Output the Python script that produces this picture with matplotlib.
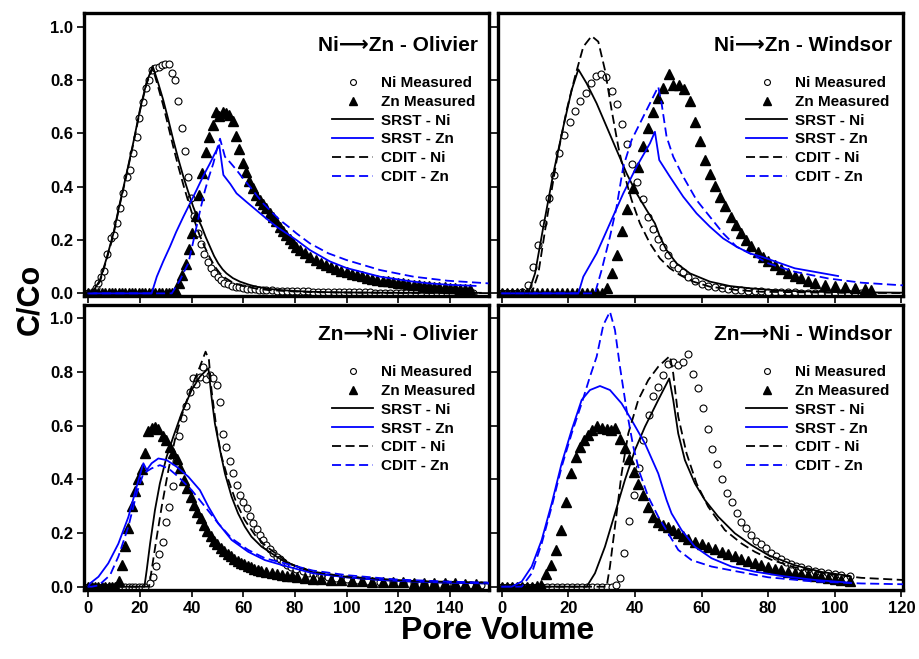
import matplotlib
matplotlib.use("Agg")
import matplotlib.pyplot as plt
from matplotlib.ticker import FormatStrFormatter

# ---------------- Ni -> Zn  Olivier (top left) ----------------
tl_ni_x = [0, 1, 2, 3, 3.9, 5, 6.1, 7.4, 8.9, 9.9, 11.0, 12.3, 13.5, 14.8, 16.1, 17.2, 18.7, 19.7, 21.0, 22.3,
           23.6, 24.6, 25.9, 27.2, 28.5, 29.8, 31.1, 32.4, 33.5, 34.8, 36.1, 37.4, 38.7, 39.7, 41.0, 42.3, 43.6,
           44.9, 46.2, 47.5, 48.8, 50.1, 51.4, 52.6, 54, 55.5, 57, 58.5, 60, 61.5, 63, 64.5, 66, 67.5, 69, 71,
           73, 75, 77, 79, 81, 83, 85, 87, 89, 91, 93, 95, 97, 99, 101, 103, 105, 107, 109, 111, 113, 115, 117,
           119, 121, 123, 125, 127, 129, 131, 133, 135, 137, 139, 141, 143, 145, 147, 149]
tl_ni_y = [0, 0, 0.005, 0.02, 0.04, 0.06, 0.085, 0.146, 0.206, 0.219, 0.263, 0.319, 0.375, 0.438, 0.463, 0.525,
           0.588, 0.656, 0.719, 0.769, 0.80, 0.838, 0.844, 0.85, 0.855, 0.859, 0.86, 0.825, 0.80, 0.72, 0.62,
           0.534, 0.435, 0.356, 0.29, 0.228, 0.184, 0.148, 0.119, 0.094, 0.075, 0.06, 0.05, 0.04, 0.034, 0.029,
           0.025, 0.022, 0.02, 0.018, 0.016, 0.015, 0.014, 0.013, 0.012, 0.011, 0.01, 0.009, 0.009, 0.008,
           0.008, 0.007, 0.007, 0.006, 0.006, 0.006, 0.005, 0.005, 0.005, 0.005, 0.004, 0.004, 0.004, 0.004,
           0.004, 0.003, 0.003, 0.003, 0.003, 0.003, 0.003, 0.003, 0.002, 0.002, 0.002, 0.002, 0.002, 0.002,
           0.002, 0.002, 0.002, 0.002, 0.002, 0.002, 0.002]
tl_zn_x = [0, 1.3, 2.6, 3.9, 5.2, 6.5, 7.8, 9.1, 10.4, 11.7, 13, 14.3, 15.6, 16.9, 18.2, 19.5, 20.8, 22.1, 23.4,
           24.7, 26, 27.3, 28.6, 29.9, 31.2, 32.5, 33.8, 35.1, 36.4, 37.7, 39.0, 40.3, 41.6, 42.9, 44.2, 45.5,
           46.8, 48.1, 49.4, 50.7, 52.0, 53.3, 54.6, 55.9, 57.2, 58.5, 59.8, 61.1, 62.4, 63.7, 65, 66.3, 67.6,
           68.9, 70.2, 71.5, 72.8, 74.1, 75.4, 76.7, 78, 79.3, 80.6, 82, 84, 86, 88, 90, 92, 94, 96, 98, 100,
           102, 104, 106, 108, 110, 112, 114, 116, 118, 120, 122, 124, 126, 128, 130, 132, 134, 136, 138, 140,
           142, 144, 146, 148]
tl_zn_y = [0, 0, 0, 0, 0, 0, 0, 0, 0, 0, 0, 0, 0, 0, 0, 0, 0, 0, 0, 0, 0, 0, 0, 0, 0, 0.002, 0.01, 0.04, 0.07,
           0.11, 0.165, 0.225, 0.29, 0.37, 0.45, 0.53, 0.585, 0.63, 0.68, 0.665, 0.68, 0.675, 0.67, 0.645, 0.59,
           0.54, 0.49, 0.455, 0.42, 0.395, 0.37, 0.35, 0.335, 0.32, 0.30, 0.285, 0.27, 0.25, 0.235, 0.22, 0.205,
           0.19, 0.175, 0.163, 0.15, 0.138, 0.125, 0.115, 0.107, 0.1, 0.092, 0.085, 0.079, 0.073, 0.068, 0.064,
           0.059, 0.055, 0.051, 0.048, 0.045, 0.042, 0.039, 0.037, 0.035, 0.032, 0.03, 0.028, 0.027, 0.025,
           0.024, 0.022, 0.021, 0.02, 0.018, 0.017, 0.015]
tl_srst_ni_x = [0, 2, 4.5, 7, 9.7, 12, 14.8, 17.5, 20, 22.5, 24.9, 27, 29, 31, 32.9, 34.8, 36.8, 38.7, 40.6, 42.2,
                43.9, 45.5, 47.1, 48.7, 50.3, 52, 53.5, 56, 58.7, 62, 65, 70, 74, 80, 86, 95, 105, 120, 135, 152]
tl_srst_ni_y = [0, 0.01, 0.05, 0.13, 0.225, 0.33, 0.45, 0.57, 0.69, 0.79, 0.8525, 0.79, 0.725, 0.65, 0.575, 0.505,
                0.4375, 0.38, 0.325, 0.285, 0.25, 0.21, 0.175, 0.14, 0.1125, 0.09, 0.075, 0.057, 0.044, 0.033,
                0.025, 0.017, 0.0125, 0.009, 0.006, 0.004, 0.003, 0.002, 0.002, 0.002]
tl_srst_zn_x = [0, 24.5, 26.5, 29, 31.6, 34, 36.8, 39.5, 41.9, 44.5, 47.1, 49, 50.7, 52.3, 55, 57.4, 61, 65, 69,
                72.9, 76.8, 80.6, 85.8, 93.5, 100, 113, 125, 132, 140, 150]
tl_srst_zn_y = [0, 0, 0.0625, 0.12, 0.175, 0.23, 0.2875, 0.34, 0.3875, 0.44, 0.4875, 0.525, 0.556, 0.444, 0.41,
                0.375, 0.345, 0.3125, 0.28, 0.25, 0.225, 0.2, 0.1625, 0.12, 0.095, 0.0625, 0.045, 0.0375, 0.032,
                0.028]
tl_cdit_ni_x = [0, 2, 4.5, 7, 9.7, 12, 14.8, 17.5, 20, 22.5, 24.9, 27, 29, 31, 33, 35, 37, 39, 41, 43, 45, 47, 49,
                51, 53, 56, 60, 65, 70, 80, 90, 100, 120, 155]
tl_cdit_ni_y = [0, 0.008, 0.045, 0.125, 0.22, 0.325, 0.445, 0.565, 0.685, 0.785, 0.845, 0.775, 0.705, 0.625,
                0.545, 0.47, 0.4, 0.335, 0.275, 0.22, 0.175, 0.135, 0.1, 0.075, 0.058, 0.04, 0.027, 0.018, 0.012,
                0.007, 0.004, 0.003, 0.002, 0.001]
tl_cdit_zn_x = [0, 32.3, 35.5, 37, 38.7, 40.3, 41.9, 43.5, 45.2, 46.8, 48.4, 49.8, 51, 52.9, 55, 57.4, 60, 62.6,
                65, 67.7, 71, 74.2, 77.5, 80.6, 85.8, 93, 100, 113, 126, 139, 155]
tl_cdit_zn_y = [0, 0, 0.05, 0.08, 0.1125, 0.18, 0.25, 0.32, 0.3875, 0.44, 0.4875, 0.54, 0.58, 0.5125, 0.49,
                0.4625, 0.43, 0.4, 0.37, 0.3375, 0.305, 0.275, 0.25, 0.225, 0.1875, 0.15, 0.125, 0.0875, 0.0625,
                0.0475, 0.0375]

# ---------------- Ni -> Zn  Windsor (top right) ----------------
tr_ni_x = [0, 1.5, 3, 4.5, 6, 7.8, 9.5, 11, 12.5, 14.3, 15.8, 17.3, 18.8, 20.5, 22, 23.5, 25.3, 26.8, 28.3, 29.7,
           31.3, 33, 34.5, 36, 37.5, 39.1, 40.7, 42.3, 43.8, 45.3, 46.8, 48.3, 49.8, 51.5, 53, 54.5, 56, 58, 60,
           62, 64, 66, 68, 70, 72, 74, 76, 78, 80, 82, 84, 86, 88, 90, 92, 94, 96, 98, 100, 102, 104, 106, 108,
           110]
tr_ni_y = [0, 0, 0, 0, 0.005, 0.03, 0.0975, 0.18, 0.2625, 0.356, 0.444, 0.525, 0.594, 0.644, 0.685, 0.72, 0.75,
           0.79, 0.815, 0.8225, 0.81, 0.76, 0.71, 0.635, 0.56, 0.485, 0.416, 0.354, 0.2875, 0.24, 0.204, 0.175,
           0.144, 0.109, 0.094, 0.079, 0.063, 0.045, 0.035, 0.028, 0.023, 0.019, 0.016, 0.013, 0.011, 0.01,
           0.008, 0.007, 0.006, 0.005, 0.005, 0.004, 0.004, 0.003, 0.003, 0.003, 0.003, 0.002, 0.002, 0.002,
           0.002, 0.002, 0.002, 0.002]
tr_zn_x = [0, 1.5, 3, 4.5, 6, 7.5, 9, 10.5, 12, 13.5, 15, 16.5, 18, 19.5, 21, 22.5, 24, 25.5, 27, 28.5, 30, 31.5,
           33, 34.5, 36, 37.5, 39.3, 40.8, 42.3, 43.8, 45.3, 46.8, 48.5, 50.1, 51.5, 53.3, 54.7, 56.5, 58, 59.5,
           61, 62.5, 64, 65.5, 67, 68.7, 70.2, 71.8, 73.5, 75, 77, 78.5, 80, 82, 84, 86, 88, 90, 92, 94, 97,
           100, 103, 106, 109, 111]
tr_zn_y = [0, 0, 0, 0, 0, 0, 0, 0, 0, 0, 0, 0, 0, 0, 0, 0, 0, 0, 0, 0, 0, 0.019, 0.075, 0.144, 0.234, 0.315,
           0.394, 0.4725, 0.5525, 0.62, 0.68, 0.734, 0.769, 0.8225, 0.78, 0.78, 0.765, 0.72, 0.644, 0.5725, 0.5,
           0.4475, 0.404, 0.3625, 0.3275, 0.2875, 0.256, 0.225, 0.2, 0.1775, 0.156, 0.1375, 0.1225, 0.106,
           0.09, 0.0775, 0.065, 0.056, 0.046, 0.0375, 0.031, 0.0275, 0.0225, 0.019, 0.015, 0.0125]
tr_srst_ni_x = [0, 8, 10, 12.5, 15.5, 18.5, 21, 23, 25.5, 28.5, 31.5, 34.5, 37.5, 40.5, 43.5, 46, 47.5, 49.5,
                52.5, 56.5, 62.5, 68.5, 74.5, 84, 98, 120.5]
tr_srst_ni_y = [0, 0, 0.075, 0.25, 0.45, 0.625, 0.7625, 0.84, 0.7875, 0.7125, 0.625, 0.5375, 0.45, 0.375,
                0.3125, 0.2625, 0.2125, 0.1625, 0.1125, 0.075, 0.044, 0.0275, 0.019, 0.01, 0.005, 0.0025]
tr_srst_zn_x = [0, 23, 24.5, 28.5, 32.5, 36.5, 40.5, 44.5, 46, 47.3, 50.5, 54.5, 58.5, 62.5, 66.5, 70.5, 74.5,
                78, 88, 101]
tr_srst_zn_y = [0, 0, 0.0625, 0.15, 0.2625, 0.375, 0.475, 0.5625, 0.606, 0.5, 0.4375, 0.3625, 0.3, 0.25, 0.206,
                0.175, 0.15, 0.1375, 0.094, 0.065]
tr_cdit_ni_x = [0, 9, 11, 13.5, 16.5, 19.5, 22, 24.5, 27, 29, 31, 33, 35, 37, 39, 41.5, 44.5, 47.5, 50.5, 53.5,
                57.5, 62.5, 70.5, 78, 98, 120.5]
tr_cdit_ni_y = [0, 0, 0.075, 0.275, 0.5, 0.6875, 0.8125, 0.925, 0.965, 0.944, 0.8375, 0.6875, 0.55, 0.4375, 0.35,
                0.2625, 0.1875, 0.131, 0.094, 0.069, 0.044, 0.025, 0.0125, 0.006, 0.0025, 0.001]
tr_cdit_zn_x = [0, 28, 30, 32.5, 34.5, 36.5, 39, 42, 45, 47, 48, 49.5, 51.5, 54.5, 58.5, 62.5, 66.5, 70.5, 74.5,
                80, 88, 98, 108, 120.5]
tr_cdit_zn_y = [0, 0, 0.0875, 0.2125, 0.325, 0.475, 0.575, 0.65, 0.725, 0.775, 0.7125, 0.5875, 0.5125, 0.4375,
                0.35, 0.2875, 0.225, 0.175, 0.15, 0.1125, 0.081, 0.056, 0.04, 0.03]

# ---------------- Zn -> Ni  Olivier (bottom left) ----------------
bl_ni_x = [0, 1.3, 2.6, 3.9, 5.2, 6.5, 7.8, 9.1, 10.4, 11.7, 13, 14.3, 15.6, 16.9, 18.2, 19.5, 20.8, 22.1, 23.9,
           24.9, 26.2, 27.5, 28.8, 30.1, 31.4, 32.6, 33.9, 35.1, 36.8, 37.8, 39.4, 40.4, 41.7, 43.2, 44.5, 45.5,
           47.1, 48.4, 50, 51, 52.3, 53.5, 54.8, 56.1, 57.4, 58.7, 60, 61.3, 62.6, 63.9, 65.2, 66.5, 67.7, 69,
           70.3, 71.6, 73, 74.2, 75.5, 76.8, 78.5, 80.6, 83, 85, 87, 90, 93, 96, 100, 104, 108, 113, 118, 122,
           126, 130, 134, 139, 144, 148, 152]
bl_ni_y = [0, 0, 0, 0, 0, 0, 0, 0, 0, 0, 0, 0, 0, 0, 0, 0, 0, 0, 0.0125, 0.037, 0.077, 0.122, 0.168, 0.242, 0.296,
           0.375, 0.47, 0.56, 0.627, 0.673, 0.727, 0.776, 0.755, 0.783, 0.82, 0.773, 0.789, 0.776, 0.75, 0.69,
           0.57, 0.52, 0.47, 0.425, 0.379, 0.342, 0.317, 0.292, 0.263, 0.238, 0.214, 0.193, 0.174, 0.155, 0.139,
           0.124, 0.112, 0.102, 0.092, 0.081, 0.073, 0.065, 0.057, 0.052, 0.047, 0.041, 0.036, 0.031, 0.027,
           0.024, 0.021, 0.019, 0.016, 0.014, 0.012, 0.011, 0.01, 0.01, 0.008, 0.007, 0.006]
bl_zn_x = [0, 1.3, 2.6, 3.9, 5.2, 6.5, 7.8, 9.1, 10.4, 11.7, 12.9, 14.2, 15.5, 16.8, 18.1, 19.4, 20.7, 22, 23.2,
           24.5, 25.8, 27.1, 28.8, 30.2, 31.6, 32.9, 34.2, 35.5, 37, 38.3, 39.6, 40.9, 42.2, 43.5, 44.8, 46.1,
           47.4, 48.7, 50, 51.3, 52.6, 53.9, 55.2, 56.5, 57.8, 59.1, 60.4, 61.7, 63, 64.3, 65.6, 67, 69, 71, 73,
           75, 77, 79, 81, 84, 87, 90, 94, 98, 102, 106, 110, 114, 118, 122, 126, 130, 134, 138, 142, 146, 150]
bl_zn_y = [0, 0, 0, 0, 0, 0, 0, 0, 0, 0.02, 0.08, 0.15, 0.22, 0.3, 0.355, 0.40, 0.44, 0.5, 0.58, 0.59, 0.594,
           0.586, 0.56, 0.545, 0.522, 0.497, 0.475, 0.441, 0.398, 0.366, 0.335, 0.304, 0.28, 0.255, 0.23, 0.208,
           0.189, 0.172, 0.158, 0.145, 0.133, 0.123, 0.113, 0.104, 0.096, 0.089, 0.083, 0.077, 0.072, 0.067,
           0.063, 0.06, 0.055, 0.051, 0.047, 0.044, 0.041, 0.038, 0.036, 0.033, 0.03, 0.028, 0.026, 0.024,
           0.022, 0.02, 0.019, 0.018, 0.017, 0.016, 0.015, 0.014, 0.013, 0.012, 0.012, 0.011, 0.01]
bl_srst_ni_x = [0, 21.7, 22.6, 23.9, 25.8, 27.7, 30.3, 32.9, 36.1, 40, 43.2, 46.5, 47.7, 49, 51, 52.9, 55.5, 58,
                60.6, 63.2, 67.1, 71, 76, 87, 100, 113, 126, 139, 155]
bl_srst_ni_y = [0, 0, 0.062, 0.16, 0.286, 0.385, 0.484, 0.559, 0.646, 0.733, 0.783, 0.814, 0.708, 0.609, 0.509,
                0.422, 0.335, 0.273, 0.224, 0.186, 0.149, 0.124, 0.093, 0.052, 0.035, 0.025, 0.019, 0.015, 0.012]
bl_srst_zn_x = [0, 0.6, 3.9, 7.7, 11.6, 15.5, 18.7, 21.3, 22.6, 24.5, 27.1, 30.3, 34.2, 38.7, 43.2, 46.5, 50.3,
                55.5, 61.9, 68.4, 76, 87, 100, 113, 126, 139, 155]
bl_srst_zn_y = [0, 0.012, 0.037, 0.087, 0.16, 0.26, 0.373, 0.46, 0.435, 0.46, 0.478, 0.472, 0.447, 0.41, 0.36,
                0.298, 0.236, 0.174, 0.13, 0.099, 0.078, 0.05, 0.035, 0.025, 0.019, 0.015, 0.012]
bl_cdit_ni_x = [0, 23.5, 24.5, 26.5, 28.4, 31, 33.5, 36.8, 40, 43.2, 45.4, 46.7, 47.7, 49.7, 51.6, 54.2, 57.4,
                60.6, 64.5, 69, 73.5, 78, 87, 100, 126, 155]
bl_cdit_ni_y = [0, 0, 0.062, 0.186, 0.298, 0.435, 0.547, 0.658, 0.745, 0.82, 0.876, 0.845, 0.733, 0.584, 0.484,
                0.398, 0.311, 0.248, 0.193, 0.149, 0.118, 0.085, 0.056, 0.037, 0.021, 0.015]
bl_cdit_zn_x = [0, 1.3, 4, 8.4, 11.6, 15.5, 18.7, 21.3, 24.5, 27.7, 31, 34.8, 40, 45.2, 50.3, 55.5, 61.9, 68.4,
                76, 87, 100, 119, 139, 155]
bl_cdit_zn_y = [0, 0, 0.005, 0.043, 0.112, 0.224, 0.348, 0.422, 0.441, 0.453, 0.441, 0.41, 0.36, 0.298, 0.236,
                0.18, 0.137, 0.106, 0.087, 0.06, 0.043, 0.027, 0.019, 0.015]

# ---------------- Zn -> Ni  Windsor (bottom right) ----------------
br_ni_x = [0, 1.5, 3, 4.5, 6, 7.5, 9, 10.5, 12, 13.5, 15, 16.5, 18, 19.5, 21, 22.5, 24, 25.5, 27, 28.5, 30, 31.5,
           33, 34.3, 35.5, 36.7, 38.2, 39.7, 41.2, 42.5, 44.2, 45.5, 47, 48.5, 50, 51.5, 53, 54.5, 56, 57.3, 58.8,
           60.3, 61.8, 63.2, 64.7, 66.2, 67.7, 69, 70.5, 72, 73.5, 75, 76.5, 78, 79.5, 81, 82.5, 84, 85.5, 87,
           88.5, 90, 92, 94, 96, 98, 100, 102, 104.5]
br_ni_y = [0, 0, 0, 0, 0, 0, 0, 0, 0, 0, 0, 0, 0, 0, 0, 0, 0, 0, 0, 0, 0, 0, 0, 0.008, 0.031, 0.124, 0.245, 0.342,
           0.441, 0.547, 0.64, 0.71, 0.745, 0.79, 0.829, 0.839, 0.826, 0.839, 0.866, 0.793, 0.739, 0.665, 0.586,
           0.512, 0.456, 0.4, 0.348, 0.317, 0.276, 0.242, 0.217, 0.193, 0.171, 0.158, 0.143, 0.127, 0.114,
           0.102, 0.093, 0.085, 0.078, 0.073, 0.066, 0.06, 0.055, 0.05, 0.046, 0.043, 0.04]
br_zn_x = [0, 1.5, 3, 4.5, 6, 7.5, 9, 10.5, 11.8, 13.2, 14.8, 16.2, 17.8, 19.2, 20.8, 22.2, 23.5, 24.8, 26, 27.2,
           28.5, 30, 31.5, 32.8, 34, 35.5, 37, 38.2, 39.8, 41, 42.5, 44, 45.5, 47, 48.5, 50, 51.5, 53, 54.5, 56,
           58, 60, 62, 64, 66, 68, 70, 72, 74, 76, 78, 80, 82, 84, 86, 88, 90, 92, 94, 96, 98, 100, 102, 104.5]
br_zn_y = [0, 0, 0, 0, 0, 0, 0, 0.002, 0.006, 0.047, 0.081, 0.137, 0.211, 0.317, 0.425, 0.484, 0.522, 0.547,
           0.565, 0.584, 0.599, 0.59, 0.586, 0.584, 0.59, 0.549, 0.516, 0.475, 0.429, 0.381, 0.342, 0.298, 0.261,
           0.242, 0.23, 0.224, 0.212, 0.2, 0.188, 0.178, 0.168, 0.158, 0.149, 0.14, 0.131, 0.122, 0.114, 0.105,
           0.096, 0.088, 0.08, 0.073, 0.067, 0.061, 0.056, 0.051, 0.047, 0.043, 0.039, 0.035, 0.032, 0.029,
           0.026, 0.023]
br_srst_ni_x = [0, 25.5, 28, 31, 34, 37, 40, 43, 47, 50.3, 51.5, 53, 55, 58, 61, 65, 70, 75, 80, 88, 96, 104.5]
br_srst_ni_y = [0, 0, 0.05, 0.149, 0.273, 0.398, 0.509, 0.596, 0.696, 0.776, 0.696, 0.571, 0.472, 0.385, 0.323,
                0.261, 0.199, 0.155, 0.118, 0.08, 0.055, 0.04]
br_srst_zn_x = [0, 3, 6, 9, 12, 15, 18, 21, 24, 26.5, 29.5, 32.5, 36, 39, 43, 47, 49.5, 51, 54, 58, 63, 69, 76,
                84, 94, 104.5]
br_srst_zn_y = [0, 0, 0.019, 0.075, 0.174, 0.31, 0.46, 0.584, 0.696, 0.733, 0.748, 0.733, 0.683, 0.621, 0.534,
                0.422, 0.323, 0.273, 0.211, 0.149, 0.106, 0.075, 0.056, 0.04, 0.025, 0.015]
br_cdit_ni_x = [0, 31.5, 32.5, 34, 36, 38, 41, 44, 47, 50.5, 51.5, 53, 55.5, 58.5, 62, 67, 72, 76, 81, 88, 98,
                108, 120.5]
br_cdit_ni_y = [0, 0, 0.075, 0.224, 0.422, 0.571, 0.696, 0.77, 0.82, 0.86, 0.795, 0.634, 0.497, 0.385, 0.298,
                0.211, 0.161, 0.13, 0.1, 0.072, 0.047, 0.033, 0.025]
br_cdit_zn_x = [0, 6, 9, 12, 15, 18, 21, 24, 26.5, 28.5, 30.5, 32.5, 34, 35.5, 37.5, 39.5, 41.5, 44, 47, 50, 53,
                57, 63, 71, 80, 93, 108, 120.5]
br_cdit_zn_y = [0, 0, 0.05, 0.161, 0.298, 0.447, 0.571, 0.683, 0.783, 0.857, 0.975, 1.025, 0.957, 0.82, 0.658,
                0.522, 0.422, 0.335, 0.261, 0.199, 0.137, 0.099, 0.075, 0.056, 0.035, 0.02, 0.012, 0.009]

titles = ["Ni\u27f6Zn - Olivier", "Ni\u27f6Zn - Windsor", "Zn\u27f6Ni - Olivier", "Zn\u27f6Ni - Windsor"]
legend_labels = ["Ni Measured", "Zn Measured", "SRST - Ni", "SRST - Zn", "CDIT - Ni", "CDIT - Zn"]
yticks = [0.0, 0.2, 0.4, 0.6, 0.8, 1.0]
xticks_left = [0, 20, 40, 60, 80, 100, 120, 140]
xticks_right = [0, 20, 40, 60, 80, 100, 120]

narrow = ["Liberation Sans Narrow", "Liberation Sans", "DejaVu Sans"]
wide = ["Liberation Sans", "DejaVu Sans"]
BLUE = "#0000ff"

fig = plt.figure(figsize=(9.19, 6.59), dpi=100)
ax_tl = fig.add_axes([0.0914, 0.5508, 0.4407, 0.4299])
ax_tr = fig.add_axes([0.5416, 0.5508, 0.441, 0.4299])
ax_bl = fig.add_axes([0.0914, 0.1047, 0.4407, 0.4325])
ax_br = fig.add_axes([0.5416, 0.1047, 0.441, 0.4325])


def panel(ax, title, ni, zn, s_ni, s_zn, c_ni, c_zn, xlim, ylim, xticks, title_y, leg_y, show_x, show_y):
    ax.plot(ni[0], ni[1], "o", ms=5, mfc="white", mec="black", mew=0.8, ls="none",
            label=legend_labels[0], zorder=2)
    ax.plot(zn[0], zn[1], "^", ms=6.5, color="black", ls="none", label=legend_labels[1], zorder=2)
    ax.plot(s_ni[0], s_ni[1], "-", color="black", lw=1.3, label=legend_labels[2], zorder=3)
    ax.plot(s_zn[0], s_zn[1], "-", color=BLUE, lw=1.3, label=legend_labels[3], zorder=3)
    ax.plot(c_ni[0], c_ni[1], "--", color="black", lw=1.3, dashes=(5, 2.5), label=legend_labels[4], zorder=3)
    ax.plot(c_zn[0], c_zn[1], "--", color=BLUE, lw=1.3, dashes=(5, 2.5), label=legend_labels[5], zorder=3)
    ax.set_xlim(*xlim)
    ax.set_ylim(*ylim)
    ax.set_xticks(xticks)
    ax.set_yticks(yticks)
    ax.yaxis.set_major_formatter(FormatStrFormatter("%.1f"))
    for sp in ax.spines.values():
        sp.set_linewidth(2.4)
    ax.tick_params(direction="out", length=5, width=1.2, labelsize=12, pad=3,
                   labelbottom=show_x, labelleft=show_y)
    for lab in ax.get_xticklabels() + ax.get_yticklabels():
        lab.set_family(narrow)
        lab.set_fontweight("bold")
    ax.text(0.973, title_y, title, transform=ax.transAxes, ha="right", va="center",
            fontsize=15, fontweight="bold", family=wide)
    leg = ax.legend(loc="upper right", bbox_to_anchor=(0.985, leg_y), frameon=False, numpoints=1,
                    handlelength=2.7, handletextpad=0.5, labelspacing=0.31, borderpad=0, markerscale=0.85,
                    prop={"family": wide, "weight": "bold", "size": 11})
    return leg


panel(ax_tl, titles[0], (tl_ni_x, tl_ni_y), (tl_zn_x, tl_zn_y), (tl_srst_ni_x, tl_srst_ni_y),
      (tl_srst_zn_x, tl_srst_zn_y), (tl_cdit_ni_x, tl_cdit_ni_y), (tl_cdit_zn_x, tl_cdit_zn_y),
      (-1.7, 155.2), (-0.01, 1.0525), xticks_left, 0.886, 0.803, False, True)
panel(ax_tr, titles[1], (tr_ni_x, tr_ni_y), (tr_zn_x, tr_zn_y), (tr_srst_ni_x, tr_srst_ni_y),
      (tr_srst_zn_x, tr_srst_zn_y), (tr_cdit_ni_x, tr_cdit_ni_y), (tr_cdit_zn_x, tr_cdit_zn_y),
      (-1.2, 120.5), (-0.01, 1.0525), xticks_right, 0.886, 0.803, False, False)
panel(ax_bl, titles[2], (bl_ni_x, bl_ni_y), (bl_zn_x, bl_zn_y), (bl_srst_ni_x, bl_srst_ni_y),
      (bl_srst_zn_x, bl_srst_zn_y), (bl_cdit_ni_x, bl_cdit_ni_y), (bl_cdit_zn_x, bl_cdit_zn_y),
      (-1.7, 155.2), (-0.0124, 1.05), xticks_left, 0.895, 0.815, True, True)
panel(ax_br, titles[3], (br_ni_x, br_ni_y), (br_zn_x, br_zn_y), (br_srst_ni_x, br_srst_ni_y),
      (br_srst_zn_x, br_srst_zn_y), (br_cdit_ni_x, br_cdit_ni_y), (br_cdit_zn_x, br_cdit_zn_y),
      (-1.2, 120.5), (-0.0124, 1.05), xticks_right, 0.895, 0.815, True, False)

fig.text(0.541, 0.043, "Pore Volume", ha="center", va="center", fontsize=23, fontweight="bold", family=narrow)
fig.text(0.033, 0.545, "C/Co", ha="center", va="center", rotation=90, fontsize=22, fontweight="bold",
         family=wide)

fig.savefig("out.png", dpi=100)
